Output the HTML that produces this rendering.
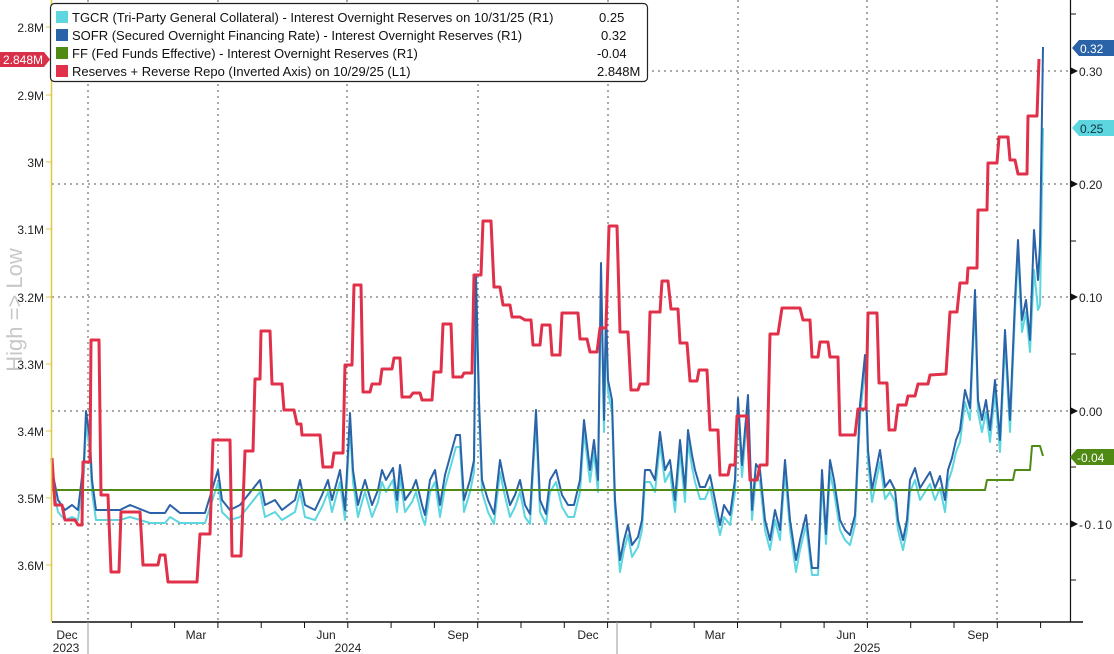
<!DOCTYPE html>
<html><head><meta charset="utf-8">
<style>
html,body{margin:0;padding:0;background:#fff;}
svg{display:block;font-family:"Liberation Sans",sans-serif;}
</style></head>
<body>
<svg id="c" width="1114" height="654" viewBox="0 0 1114 654" xmlns="http://www.w3.org/2000/svg">
<rect width="1114" height="654" fill="#fff"/>
<g stroke="#555" stroke-width="1" stroke-dasharray="2,4">
<line x1="52" y1="71" x2="1070" y2="71"/>
<line x1="52" y1="184" x2="1070" y2="184"/>
<line x1="52" y1="297" x2="1070" y2="297"/>
<line x1="52" y1="411" x2="1070" y2="411"/>
<line x1="52" y1="524" x2="1070" y2="524"/>
<line x1="88" y1="0" x2="88" y2="622"/>
<line x1="218" y1="0" x2="218" y2="622"/>
<line x1="347" y1="0" x2="347" y2="622"/>
<line x1="478" y1="0" x2="478" y2="622"/>
<line x1="608" y1="0" x2="608" y2="622"/>
<line x1="738" y1="0" x2="738" y2="622"/>
<line x1="867" y1="0" x2="867" y2="622"/>
<line x1="997" y1="0" x2="997" y2="622"/>
</g>
<text x="16" y="310" transform="rotate(-90 16 310)" text-anchor="middle" font-size="22" fill="#c8c8c8" dominant-baseline="middle">High =&gt; Low</text>
<g id="series"></g>
<line x1="51.5" y1="0" x2="51.5" y2="622" stroke="#e0c840" stroke-width="1.5"/>
<g font-size="12" fill="#222" text-anchor="end">
<text x="44" y="32">2.8M</text>
<text x="44" y="100">2.9M</text>
<text x="44" y="167">3M</text>
<text x="44" y="234">3.1M</text>
<text x="44" y="302">3.2M</text>
<text x="44" y="369">3.3M</text>
<text x="44" y="436">3.4M</text>
<text x="44" y="503">3.5M</text>
<text x="44" y="570">3.6M</text>
</g>
<g stroke="#e0c840" stroke-width="1">
<line x1="46" y1="27" x2="52" y2="27"/><line x1="46" y1="95" x2="52" y2="95"/><line x1="46" y1="162" x2="52" y2="162"/><line x1="46" y1="229" x2="52" y2="229"/><line x1="46" y1="297" x2="52" y2="297"/><line x1="46" y1="364" x2="52" y2="364"/><line x1="46" y1="431" x2="52" y2="431"/><line x1="46" y1="498" x2="52" y2="498"/><line x1="46" y1="565" x2="52" y2="565"/>
</g>
<path d="M0,52 H44 L50,59.5 L44,67 H0 Z" fill="#d9304a"/>
<text x="3" y="64" font-size="12" fill="#fff">2.848M</text>
<line x1="1070.5" y1="0" x2="1070.5" y2="622" stroke="#111" stroke-width="1.2"/>
<g fill="#111">
<path d="M1070,67 l8,4 l-8,4z"/><path d="M1070,180 l8,4 l-8,4z"/><path d="M1070,293 l8,4 l-8,4z"/><path d="M1070,407 l8,4 l-8,4z"/><path d="M1070,520 l8,4 l-8,4z"/>
</g>
<g stroke="#111"><line x1="1070" y1="14" x2="1076" y2="14"/><line x1="1070" y1="241" x2="1076" y2="241"/><line x1="1070" y1="354" x2="1076" y2="354"/><line x1="1070" y1="467" x2="1076" y2="467"/><line x1="1070" y1="580" x2="1076" y2="580"/></g>
<g font-size="12" fill="#222">
<text x="1079" y="76">0.30</text><text x="1079" y="189">0.20</text><text x="1079" y="302">0.10</text><text x="1079" y="416">0.00</text><text x="1079" y="529" textLength="33">-0.10</text>
</g>
<path d="M1072,48 L1079,40 H1114 V56 H1079 Z" fill="#2b63a8"/>
<text x="1080" y="53" font-size="12" fill="#fff">0.32</text>
<path d="M1072,128 L1079,120 H1114 V136 H1079 Z" fill="#5dd6e0"/>
<text x="1080" y="133" font-size="12" fill="#0c3440">0.25</text>
<path d="M1070,457 L1077,449 H1114 V465 H1077 Z" fill="#4e8a14"/>
<text x="1077" y="462" font-size="12" fill="#fff">-0.04</text>
<line x1="52" y1="622" x2="1083" y2="622" stroke="#111" stroke-width="1.5"/>
<g id="xt" stroke="#111"></g>
<line x1="88" y1="622" x2="88" y2="654" stroke="#999"/>
<line x1="617" y1="622" x2="617" y2="654" stroke="#999"/>
<g font-size="12" fill="#222" text-anchor="middle">
<text x="67" y="639">Dec</text><text x="196" y="639">Mar</text><text x="326" y="639">Jun</text><text x="458" y="639">Sep</text><text x="588" y="639">Dec</text><text x="715" y="639">Mar</text><text x="846" y="639">Jun</text><text x="978" y="639">Sep</text>
<text x="66" y="652">2023</text><text x="348" y="652">2024</text><text x="867" y="652">2025</text>
</g>
<rect x="50.5" y="3.5" width="597" height="78" rx="4" fill="#fff" stroke="#222" stroke-width="1.2"/>
<rect x="56" y="11" width="12" height="12" fill="#5dd6e0"/>
<rect x="56" y="29" width="12" height="12" fill="#2b63a8"/>
<rect x="56" y="47" width="12" height="12" fill="#4e8a14"/>
<rect x="56" y="65" width="12" height="12" fill="#e0304a"/>
<g font-size="13" fill="#111">
<text x="72" y="22">TGCR (Tri-Party General Collateral) - Interest Overnight Reserves on 10/31/25 (R1)</text>
<text x="72" y="40">SOFR (Secured Overnight Financing Rate) - Interest Overnight Reserves (R1)</text>
<text x="72" y="58">FF (Fed Funds Effective) - Interest Overnight Reserves (R1)</text>
<text x="72" y="76">Reserves + Reverse Repo (Inverted Axis) on 10/29/25 (L1)</text>
<text x="599" y="22">0.25</text><text x="601" y="40">0.32</text><text x="597" y="58">-0.04</text><text x="597" y="76">2.848M</text>
</g>
</svg>
<script>
var NS="http://www.w3.org/2000/svg";
var xt=document.getElementById('xt');
for(var x=88-43.3*1;x<1070;x+=43.3){if(x<52)continue;var l=document.createElementNS(NS,'line');l.setAttribute('x1',x);l.setAttribute('x2',x);l.setAttribute('y1',622);l.setAttribute('y2',628);xt.appendChild(l);}
var red=[52,458,55,505,62,505,65,520,75,520,78,525,82,525,83,462,90,462,91,340,99,340,101,495,108,495,111,572,119,572,121,512,140,512,143,565,158,565,160,555,165,555,168,582,197,582,200,534,210,534,213,440,230,440,232,556,241,556,245,451,253,451,255,379,260,379,261,331,270,331,272,384,282,384,284,410,294,410,297,424,301,424,302,435,320,435,323,467,332,467,334,453,343,453,345,365,352,365,354,285,361,285,363,392,370,392,372,384,380,384,382,369,392,369,394,358,400,358,402,397,410,397,413,393,420,393,422,400,432,400,434,372,441,372,443,324,451,324,453,377,462,377,464,373,472,373,474,275,481,275,483,221,491,221,494,287,500,287,503,305,510,305,512,317,520,317,525,320,531,320,533,345,540,345,542,325,550,325,552,355,560,355,562,313,578,313,580,339,587,339,590,352,597,352,600,328,606,328,609,226,617,226,620,332,628,332,631,390,638,390,640,384,648,384,650,312,660,312,662,281,668,281,671,309,678,309,680,343,687,343,690,381,697,381,699,370,707,370,710,430,718,430,720,475,728,475,730,465,735,465,737,416,747,416,750,480,757,480,760,465,767,465,770,334,778,334,782,308,800,308,803,320,810,320,812,357,818,357,820,342,828,342,830,357,838,357,840,435,855,435,858,409,866,409,868,313,877,313,879,383,887,383,889,430,895,430,898,405,906,405,908,396,915,396,918,384,928,384,930,375,946,374,950,312,957,312,960,283,967,283,968,268,977,268,978,210,987,210,988,163,997,163,999,137,1008,137,1010,160,1015,160,1018,174,1027,174,1028,116,1037,116,1039,59];
var blue=[52,470,58,500,65,510,72,505,78,510,84,460,86,411,90,440,92,480,96,510,110,510,120,510,130,505,150,513,165,513,170,505,180,513,205,513,215,480,218,470,222,500,230,510,240,505,260,480,265,505,275,500,282,510,295,500,300,480,305,505,315,510,322,495,328,480,332,500,340,470,345,510,350,413,353,470,358,505,362,490,365,480,372,505,378,490,382,470,386,480,393,468,397,500,400,465,405,500,412,490,416,480,422,505,425,515,430,480,435,470,440,505,445,475,456,435,460,435,464,500,470,480,474,460,476,275,479,400,482,480,488,500,494,514,500,460,504,480,510,505,515,495,520,480,525,505,530,514,536,410,540,500,546,514,550,480,556,470,562,495,568,505,574,505,580,480,584,420,590,470,594,440,598,480,601,263,604,420,606,310,608,380,612,400,615,500,620,560,624,540,628,525,632,545,638,537,642,520,645,470,650,470,655,480,660,432,665,470,670,460,675,500,680,440,685,490,688,430,692,455,695,470,700,487,705,487,710,475,715,500,720,525,724,505,730,515,735,480,738,398,742,465,748,395,752,510,756,464,760,470,765,520,770,540,775,510,780,530,785,460,790,520,796,560,800,540,806,515,812,568,818,568,822,470,826,534,830,460,834,480,840,520,845,530,850,535,855,515,860,405,865,355,868,450,872,490,876,470,880,450,885,487,890,480,895,490,898,520,903,540,907,520,910,480,915,468,920,488,925,480,930,472,935,488,940,476,945,500,948,470,952,458,956,440,960,430,965,390,970,408,975,290,978,400,982,420,986,400,990,430,995,380,1000,440,1005,330,1010,420,1015,300,1018,240,1022,320,1026,300,1030,340,1034,230,1038,280,1040,245,1043,47];
var cyan=[];
for(var i=0;i<blue.length;i+=2){var x=blue[i],y=blue[i+1];if(x>=1034)continue;var yy=y+12;if(y>505)yy=y+(y>540?12:10);cyan.push(x,Math.min(yy,575));}
cyan.push(1034,270,1038,310,1040,305,1043,128);
var green=[52,490,985,490,987,480,1013,480,1015,470,1030,470,1032,446,1040,446,1043,456];
function pl(a,c,w){var p=document.createElementNS(NS,'polyline');var s='';for(var i=0;i<a.length;i+=2)s+=a[i]+','+a[i+1]+' ';p.setAttribute('points',s);p.setAttribute('fill','none');p.setAttribute('stroke',c);p.setAttribute('stroke-width',w);p.setAttribute('stroke-linejoin','round');document.getElementById('series').appendChild(p);}
pl(cyan,'#5dd6e0',2);
pl(blue,'#2b63a8',2);
pl(green,'#4e8a14',2);
pl(red,'#e0304a',3);
</script>
</body></html>
